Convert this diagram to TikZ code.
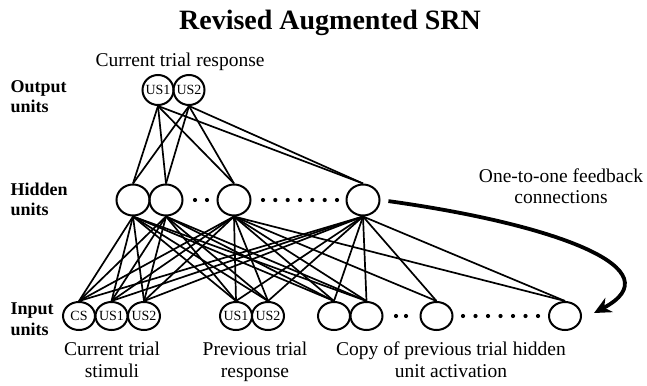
\documentclass[tikz,border=0pt]{standalone}
\usepackage{fontspec}
\setmainfont{Liberation Serif}
\usetikzlibrary{shapes.geometric,arrows.meta}
\begin{document}
\begin{tikzpicture}[x=1pt,y=-1pt,
  unit/.style={ellipse,draw,line width=2pt,inner sep=0pt,minimum width=32pt,minimum height=28pt,
    label={[font=\fontsize{14}{14}\selectfont]center:#1}},
  unit/.default={},
  hid/.style={ellipse,draw,line width=2pt,inner sep=0pt,minimum width=33pt,minimum height=31pt},
  conn/.style={line width=1.7pt},
  lab/.style={font=\fontsize{19.5}{22}\selectfont,anchor=base},
  side/.style={font=\bfseries\fontsize{18}{20}\selectfont,anchor=base west},
  dotn/.style={circle,fill,inner sep=0pt,minimum size=4.2pt}
]
\useasboundingbox (0,0) rectangle (647,385);

% title
\node[font=\bfseries\fontsize{28}{30}\selectfont,anchor=base] (title) at (330,30) {Revised Augmented SRN};

% side labels
\node[side] (ol1) at (7,93) {Output};
\node[side] (ol2) at (7,113) {units};
\node[side] (hl1) at (7,195) {Hidden};
\node[side] (hl2) at (7,215) {units};
\node[side] (il1) at (7,314) {Input};
\node[side] (il2) at (7,335) {units};

% output units
\node[unit=US1,minimum width=31pt,minimum height=30pt] (o1) at (158,90) {};
\node[unit=US2,minimum width=31pt,minimum height=30pt] (o2) at (189,90) {};
\node[lab] (otxt) at (180,67) {Current trial response};

% hidden units
\node[hid] (h1) at (133,200) {};
\node[hid] (h2) at (166,200) {};
\node[hid] (h3) at (234,200) {};
\node[hid] (h4) at (363,200) {};
\foreach \x [count=\k] in {195,207} \node[dotn] (hd\k) at (\x,200) {};
\foreach \x [count=\k] in {263,275.3,287.7,300,312.3,324.7,337} \node[dotn] (hdd\k) at (\x,200) {};

% input units
\node[unit=CS] (i1) at (79,316) {};
\node[unit=US1] (i2) at (111.5,316) {};
\node[unit=US2] (i3) at (144,316) {};
\node[unit=US1] (i4) at (236,316) {};
\node[unit=US2] (i5) at (268,316) {};
\node[unit] (i6) at (334,316) {};
\node[unit] (i7) at (366.5,316) {};
\node[unit] (i8) at (436.5,316) {};
\node[unit] (i9) at (565,316) {};
\foreach \x [count=\k] in {396,406} \node[dotn] (id\k) at (\x,316) {};
\foreach \x [count=\k] in {463,475.5,488,500.5,513,525.5,538} \node[dotn] (idd\k) at (\x,316) {};

% connections output-hidden
\foreach \o in {o1,o2}
  \foreach \h in {h1,h2,h3,h4}
    \draw[conn] (\o.south) -- (\h.north);
% connections hidden-input
\foreach \h in {h1,h2}
  \foreach \i in {i1,i2,i3,i4,i5,i6,i7}
    \draw[conn] (\h.south) -- (\i.north);
\foreach \h in {h3,h4}
  \foreach \i in {i1,i2,i3,i4,i5,i6,i7,i8,i9}
    \draw[conn] (\h.south) -- (\i.north);

% bottom labels
\node[lab] (t1a) at (112,355) {Current trial};
\node[lab] (t1b) at (112,377) {stimuli};
\node[lab] (t2a) at (255,355) {Previous trial};
\node[lab] (t2b) at (255,377) {response};
\node[lab] (t3a) at (451,355) {Copy of previous trial hidden};
\node[lab] (t3b) at (451,377) {unit activation};

% feedback
\node[lab] (fa) at (561,182) {One-to-one feedback};
\node[lab] (fb) at (561,203) {connections};
\coordinate (fbend) at (594,313);
\draw[line width=3.8pt,shorten <=8pt,-{Stealth[length=17pt,width=16pt]}]
  (h4.east) .. controls (560,225) and (675,270) .. (fbend);
\end{tikzpicture}
\end{document}
